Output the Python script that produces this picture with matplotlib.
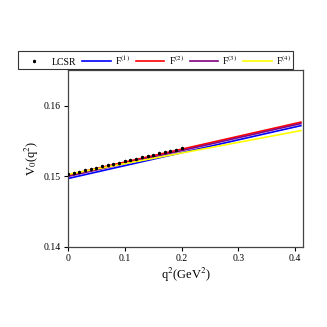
import numpy as np
from matplotlib import pyplot as plt

plt.rcParams['font.family'] = ['Liberation Serif', 'DejaVu Serif']
plt.rcParams['mathtext.fontset'] = 'stix'

# model curves F(1)..F(4)
q2 = [0.0, 0.1, 0.2, 0.3, 0.41]
f1 = [0.1497, 0.15153, 0.15336, 0.15519, 0.1572]
f2 = [0.1502, 0.15203, 0.15386, 0.15569, 0.1577]
f3 = [0.1500, 0.15183, 0.15366, 0.15549, 0.1575]
f4 = [0.1503, 0.15181, 0.15332, 0.15483, 0.1565]

# LCSR points
lcsr_q2 = [0.0, 0.01, 0.02, 0.03, 0.04, 0.05, 0.06, 0.07, 0.08, 0.09, 0.10,
           0.11, 0.12, 0.13, 0.14, 0.15, 0.16, 0.17, 0.18, 0.19, 0.20]
lcsr_v0 = [0.1503, 0.15048, 0.15067, 0.15085, 0.15104, 0.15122, 0.15141,
           0.15159, 0.15178, 0.15196, 0.15215, 0.15233, 0.15252, 0.15270,
           0.15289, 0.15307, 0.15326, 0.15344, 0.15363, 0.15381, 0.1540]

fig = plt.figure(figsize=(3.27, 3.27), dpi=100)
ax = fig.add_axes([0.208, 0.245, 0.719, 0.541])

ax.plot(lcsr_q2, lcsr_v0, linestyle='none', marker=(6, 2, 0), markersize=2.4,
        markeredgewidth=0.5, color='black', label='LCSR', zorder=5)
ax.plot(q2, f1, color='blue', lw=1.2, label=r'F$^{(1)}$')
ax.plot(q2, f2, color='red', lw=1.2, label=r'F$^{(2)}$')
ax.plot(q2, f3, color='purple', lw=1.2, label=r'F$^{(3)}$')
ax.plot(q2, f4, color='yellow', lw=1.2, label=r'F$^{(4)}$')

ax.set_xlim(0, 0.414)
ax.set_ylim(0.14, 0.1651)
ax.set_xticks([0, 0.1, 0.2, 0.3, 0.4])
ax.set_xticklabels(['0', '0.1', '0.2', '0.3', '0.4'])
ax.set_yticks([0.14, 0.15, 0.16])
ax.tick_params(labelsize=7, length=3, width=0.8, direction='out', pad=2)
for s in ax.spines.values():
    s.set_color('#444444')
    s.set_linewidth(0.9)

ax.set_xlabel(r'q$^2$(GeV$^2$)', fontsize=9, labelpad=2)
ax.set_ylabel(r'V$_0$(q$^2$)', fontsize=9, labelpad=2)

leg = fig.legend(loc='center', bbox_to_anchor=(0.475, 0.817), ncol=5,
                 fontsize=7, frameon=True, fancybox=False, handlelength=2.9,
                 columnspacing=0.6, handletextpad=0.45, borderpad=0.2,
                 borderaxespad=0.2, edgecolor='black', markerfirst=True)
leg.get_frame().set_linewidth(0.8)

fig.savefig('out.png', dpi=100)
